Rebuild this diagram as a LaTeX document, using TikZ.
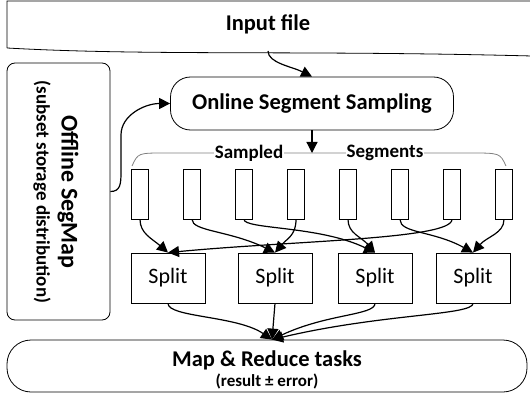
\documentclass[tikz,border=0pt]{standalone}
\usepackage{fontspec}
\setmainfont{Carlito}
\usepackage{tikz}
\usetikzlibrary{arrows.meta,shadows}
\tikzset{
    stage/.style={draw, line width=0.8pt, rounded corners=20pt, font=\fontsize{22.5}{24}\selectfont\bfseries},
    offline/.style={draw, line width=0.8pt, rounded corners=8pt, minimum width=103pt, minimum height=257pt},
    segment/.style={draw, line width=0.8pt, minimum width=17pt, minimum height=50pt, inner sep=0pt},
    splitbox/.style={draw, line width=0.8pt, fill=white, minimum width=74pt, minimum height=50pt,
                     font=\fontsize{22}{24}\selectfont,
                     drop shadow={shadow xshift=1.2pt, shadow yshift=-1.2pt, fill=black!15}},
    flow/.style={line width=1.2pt, -{Triangle[length=11pt,width=11pt]}},
    group/.style={gray, line width=0.8pt},
    tag/.style={font=\fontsize{19}{22}\selectfont\bfseries, fill=white, inner sep=1pt},
}

\begin{document}
\begin{tikzpicture}[x=1pt, y=-1pt]
    \useasboundingbox (0,0) rectangle (530,393);

    % Input file (document shape, runs off to the right)
    \draw[line width=0.8pt] (7,48) -- (7,1) -- (532,1) -- (532,56)
        .. controls (300,50) and (150,56) .. (7,48);
    \node[font=\fontsize{22.5}{24}\selectfont\bfseries] (input) at (268,24) {Input file};
    \coordinate (inbot) at (268,51);

    % Online sampling
    \node[stage, minimum width=283pt, minimum height=53pt] (online) at (312,103.5) {Online Segment Sampling};

    % Offline SegMap
    \node[offline] (offline) at (58.5,191.5) {};
    \node[rotate=-90, align=center, font=\fontsize{19}{25}\selectfont\bfseries] (offtxt) at (56,192)
        {{\fontsize{24}{25}\selectfont Offline SegMap}\\(subset storage distribution)};

    % Sampled segments
    \draw[group] (132,166) .. controls (138,153) .. (165,153) -- (470,153) .. controls (500,153) .. (506,166);
    \node[tag] (sampled) at (249,153) {Sampled};
    \node[tag] (segments) at (385,153) {Segments};
    \coordinate (grouptop) at (312,153);

    \foreach \i in {1,...,8}
        \node[segment] (seg\i) at ({140+52*(\i-1)},194) {};

    % Splits
    \node[splitbox] (sp1) at (168,278) {Split};
    \node[splitbox] (sp2) at (275,278) {Split};
    \node[splitbox] (sp3) at (375,278) {Split};
    \node[splitbox] (sp4) at (473,278) {Split};

    % Map & Reduce
    \node[stage, rounded corners=24pt, minimum width=520pt, minimum height=52pt] (map) at (267,366) {};
    \node[align=center, font=\fontsize{17}{19.5}\selectfont\bfseries] (maptxt) at (267,370)
        {{\fontsize{22.5}{19.5}\selectfont Map \& Reduce tasks}\\(result ± error)};

    % Connectors
    \draw[flow] (inbot) .. controls +(0,12) and +(-20,-10) .. (online.north);
    \draw[flow] (offline.east) .. controls +(10,0) and +(0,12) .. (121,172) -- (121,135)
        .. controls +(0,-20) and +(-25,0) .. (online.west);
    \draw[flow] (online.south) -- (grouptop);

    \draw[flow] (seg1.south) .. controls +(0,14) and +(-16,-14) .. (sp1.north);
    \draw[flow] (seg2.south) .. controls +(0,12) and +(-45,-22) .. (sp2.north);
    \draw[flow] (seg3.south) .. controls +(0,10) and +(-55,-27) .. (sp3.north);
    \draw[flow] (seg4.south) .. controls +(0,16) and +(12,-14) .. (sp2.north);
    \draw[flow] (seg5.south) .. controls +(0,14) and +(-14,-16) .. (sp3.north);
    \draw[flow] (seg6.south) .. controls +(0,14) and +(-40,-22) .. (sp4.north);
    \draw[flow] (seg7.south) .. controls +(0,20) and +(125,-12) .. (sp1.north);
    \draw[flow] (seg8.south) .. controls +(0,14) and +(14,-16) .. (sp4.north);

    \draw[flow] (sp1.south) .. controls +(0,14) and +(-35,-24) .. ([xshift=5pt]map.north);
    \draw[flow] (sp2.south) -- ([xshift=5pt]map.north);
    \draw[flow] (sp3.south) .. controls +(0,12) and +(55,-26) .. ([xshift=5pt]map.north);
    \draw[flow] (sp4.south) .. controls +(0,12) and +(110,-26) .. ([xshift=5pt]map.north);
\end{tikzpicture}
\end{document}
